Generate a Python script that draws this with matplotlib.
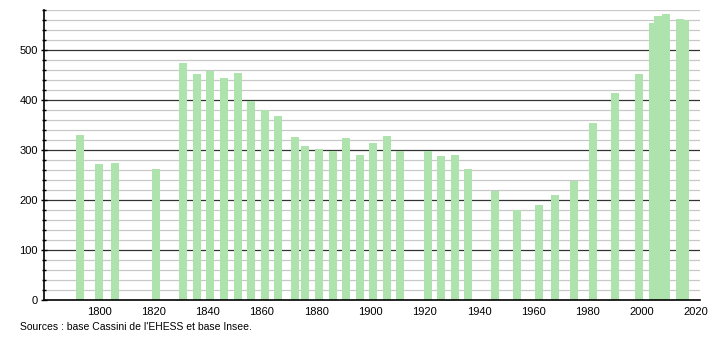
import matplotlib
matplotlib.use("Agg")
import matplotlib.pyplot as plt
from matplotlib.ticker import MultipleLocator

years = [1793, 1800, 1806, 1821, 1831, 1836, 1841, 1846, 1851, 1856, 1861, 1866,
         1872, 1876, 1881, 1886, 1891, 1896, 1901, 1906, 1911, 1921, 1926, 1931,
         1936, 1946, 1954, 1962, 1968, 1975, 1982, 1990, 1999, 2004, 2006, 2009,
         2014, 2016]
population = [330, 272, 274, 262, 474, 452, 459, 444, 454, 399, 380, 368,
              326, 308, 302, 298, 324, 290, 314, 328, 298, 298, 288, 290,
              262, 218, 180, 190, 210, 239, 354, 414, 452, 555, 568, 573,
              562, 560]
xticks = [1800, 1820, 1840, 1860, 1880, 1900, 1920, 1940, 1960, 1980, 2000, 2020]
yticks = [0, 100, 200, 300, 400, 500]
source_text = "Sources : base Cassini de l'EHESS et base Insee."

plt.rcParams['font.family'] = ['Liberation Sans', 'DejaVu Sans']

fig = plt.figure(figsize=(7.1, 3.4), dpi=100)
ax = fig.add_axes([44 / 710, 40 / 340, 656 / 710, 290 / 340])

ax.set_xlim(1779.7, 2021.4)
ax.set_ylim(0, 580)

# grid lines
for v in range(20, 581, 20):
    if v % 100 == 0:
        ax.axhline(v, color='#333333', lw=0.9, zorder=1)
    else:
        ax.axhline(v, color='#c8c8c8', lw=0.9, zorder=1)

ax.bar(years, population, width=2.95, color='#aee3ae', zorder=2, linewidth=0)

for s in ['top', 'right']:
    ax.spines[s].set_visible(False)
ax.spines['left'].set_color('black')
ax.spines['bottom'].set_color('black')
ax.spines['left'].set_linewidth(1.2)
ax.spines['bottom'].set_linewidth(1.2)
ax.spines['left'].set_zorder(3)
ax.spines['bottom'].set_zorder(3)

ax.set_yticks(yticks)
ax.yaxis.set_minor_locator(MultipleLocator(20))
ax.tick_params(axis='y', which='major', direction='inout', length=5, width=1,
               labelsize=8, pad=2, colors='black')
ax.tick_params(axis='y', which='minor', direction='inout', length=3, width=1)

ax.set_xticks(xticks)
ax.set_xticklabels([str(x) for x in xticks])
ax.tick_params(axis='x', which='both', length=0, labelsize=8, pad=5)

fig.text(20 / 710, 1 - 327 / 340, source_text, fontsize=7.5, va='center', ha='left')

fig.savefig("out.png", dpi=100)
